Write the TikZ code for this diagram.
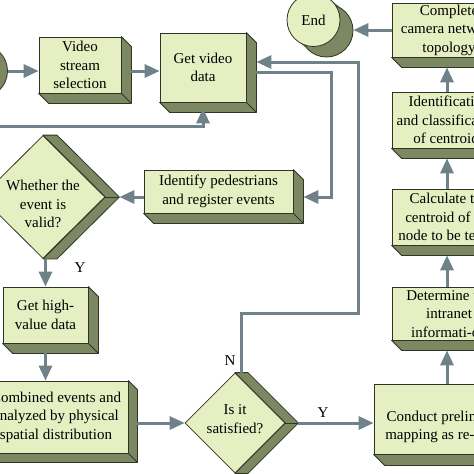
\documentclass[tikz,border=0pt]{standalone}
\usepackage{fontspec}
\setmainfont{Liberation Serif}
\usetikzlibrary{arrows.meta,shapes.geometric,calc}
\definecolor{face}{HTML}{E5EFC2}
\definecolor{side}{HTML}{7C8862}
\definecolor{edge}{HTML}{2E3524}
\definecolor{conn}{HTML}{6F8189}
\tikzset{
  boxface/.style={draw=edge, line width=0.8pt, fill=face, align=center, inner sep=1pt,
    font=\fontsize{15}{18.5}\selectfont},
  diamface/.style={diamond, draw=edge, line width=0.8pt, fill=face, inner sep=0pt},
  circface/.style={circle, draw=edge, line width=0.8pt, fill=face, inner sep=0pt,
    minimum size=53pt, font=\fontsize{15}{18.5}\selectfont},
  circside/.style={circle, draw=edge, line width=0.8pt, fill=side, inner sep=0pt, minimum size=53pt},
  circfill/.style={circle, fill=side, inner sep=0pt, minimum size=53pt},
  txt/.style={align=center, inner sep=0pt, font=\fontsize{15}{18.5}\selectfont},
  arr/.style={draw=conn, line width=3pt, -{Triangle[length=15pt,width=13pt]}},
  shade3d/.style={fill=side, draw=edge, line width=0.8pt, line join=round},
}
\newcommand{\boxshadow}[2]{%
  \filldraw[shade3d] (#1.north east) -- ([shift={(#2,#2)}]#1.north east)
    -- ([shift={(#2,#2)}]#1.south east) -- ([shift={(#2,#2)}]#1.south west)
    -- (#1.south west) -- (#1.south east) -- cycle;
  \draw[edge, line width=0.8pt] (#1.south east) -- ([shift={(#2,#2)}]#1.south east);
}
\newcommand{\diamshadow}[2]{%
  \filldraw[shade3d] (#1.north) -- ([shift={(#2,0)}]#1.north)
    -- ([shift={(#2,0)}]#1.east) -- ([shift={(#2,0)}]#1.south)
    -- (#1.south) -- (#1.east) -- cycle;
  \draw[edge, line width=0.8pt] (#1.east) -- ([shift={(#2,0)}]#1.east);
}
\begin{document}
\begin{tikzpicture}[x=1pt, y=-1pt]
\useasboundingbox (0,0) rectangle (474,474);
\clip (0,0) rectangle (474,474);
\fill[white] (0,0) rectangle (474,474);

% circles
\node[circfill] (startmid) at (-25.5,66) {};
\node[circside] (startsh) at (-19,71) {};
\node[circface] (start) at (-32,61) {};
\node[circfill] (endmid) at (320,25) {};
\node[circside] (endsh) at (326.5,30.5) {};
\node[circface] (end) at (313.5,20) {End};

% boxes
\node[boxface, minimum width=82pt, minimum height=56pt] (videosel) at (80,65) {Video\\stream\\selection};
\boxshadow{videosel}{10}
\node[boxface, minimum width=86pt, minimum height=69pt] (getvideo) at (203,67.5) {Get video\\data};
\boxshadow{getvideo}{10}
\node[boxface, minimum width=114pt, minimum height=54pt] (complete) at (449,30) {Complete\\camera network\\topology};
\boxshadow{complete}{10}
\node[boxface, minimum width=114pt, minimum height=56pt] (ident) at (449,120) {Identification\\and classification\\of centroids};
\boxshadow{ident}{10}
\node[boxface, minimum width=114pt, minimum height=56pt] (calc) at (449,217) {Calculate the\\centroid of the\\node to be tested};
\boxshadow{calc}{10}
\node[boxface, minimum width=114pt, minimum height=53pt] (determ) at (449,313.5) {Determine the\\intranet\\informati-on};
\boxshadow{determ}{10}
\node[boxface, minimum width=150pt, minimum height=70pt] (conduct) at (449,419) {};
\boxshadow{conduct}{11}
\node[txt] (conducttxt) at (449,427) {Conduct preliminary\\mapping as re-quired};
\node[boxface, minimum width=149pt, minimum height=43pt] (identify) at (218.5,191.5) {Identify pedestrians\\and register events};
\boxshadow{identify}{10}
\node[boxface, minimum width=85pt, minimum height=56pt] (gethigh) at (45.5,315) {Get high-\\value data};
\boxshadow{gethigh}{10}
\node[boxface, minimum width=144pt, minimum height=72pt] (combined) at (56,417) {Combined events and\\analyzed by physical\\spatial distribution};
\boxshadow{combined}{9}

% diamonds
\node[diamface, minimum width=124pt, minimum height=123pt] (whether) at (43,197) {};
\diamshadow{whether}{14}
\node[txt] (whethertxt) at (43,204) {Whether the\\event is\\valid?};
\node[diamface, minimum width=100pt, minimum height=100pt] (satisfied) at (235,423) {};
\diamshadow{satisfied}{13}
\node[txt] (satisfiedtxt) at (235,419) {Is it\\satisfied?};

% connectors
\coordinate (inleft) at (-5,126);
\coordinate (nloop) at (358,313);
\draw[arr] (startsh.east) -- (videosel.west |- startsh.east);
\draw[arr] ([xshift=10pt,yshift=-6pt]videosel.east) -- ([yshift=-6pt]videosel.east -| getvideo.west);
\draw[arr] (inleft) -| ([yshift=-6pt]getvideo.south);
\draw[arr] ([xshift=10pt,yshift=-4.5pt]getvideo.east) -- ++(75,0) |- ([xshift=10pt,yshift=-5.5pt]identify.east);
\draw[arr] (identify.west |- whether.east) -- ([xshift=14pt]whether.east);
\draw[arr] ([xshift=2.5pt]whether.south) -- ([xshift=2.5pt]whether.south |- gethigh.north);
\draw[arr] ([yshift=-10pt]gethigh.south) -- (gethigh.south |- combined.north);
\draw[arr] ([xshift=9pt]combined.east |- satisfied.west) -- (satisfied.west);
\draw[arr] ([xshift=13pt]satisfied.east) -- (conduct.west |- satisfied.east);
\draw[arr] ([xshift=6pt]satisfied.north) |- (nloop) |- ([xshift=10pt,yshift=5.5pt]getvideo.east);
\draw[arr] ([xshift=-2pt]conduct.north) -- ([xshift=-2pt,yshift=-10pt]determ.south);
\draw[arr] ([xshift=-2pt]determ.north) -- ([xshift=-2pt,yshift=-10pt]calc.south);
\draw[arr] ([xshift=-2pt]calc.north) -- ([xshift=-2pt,yshift=-10pt]ident.south);
\draw[arr] ([xshift=-2pt]ident.north) -- ([xshift=-2pt,yshift=-10pt]complete.south);
\draw[arr] (complete.west) -- (complete.west -| endsh.east);

% labels
\node[txt] (ylbl1) at (80,268) {Y};
\node[txt] (ylbl2) at (323,413) {Y};
\node[txt] (nlbl) at (230,361) {N};
\end{tikzpicture}
\end{document}
